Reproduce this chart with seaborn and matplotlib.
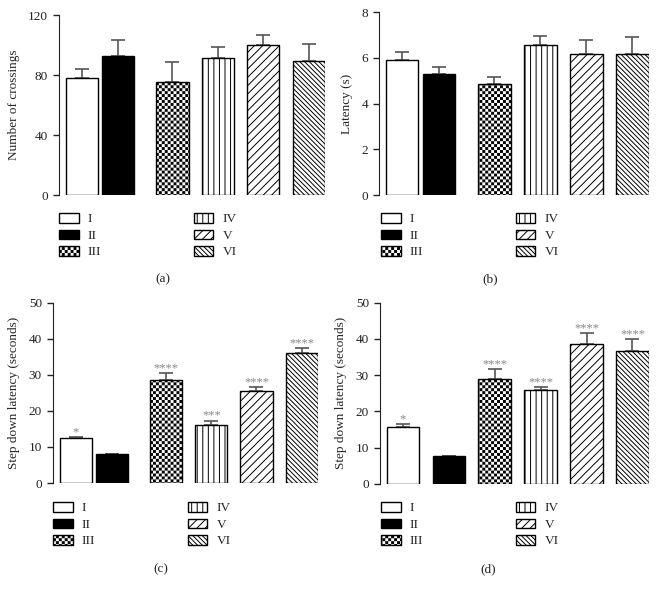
import warnings
import numpy as np
import pandas as pd
import matplotlib
matplotlib.use('Agg')
import matplotlib.pyplot as plt
import matplotlib.hatch as mhatch
from matplotlib.path import Path
from matplotlib.patches import Patch
import seaborn as sns

# groups (treatments)
groups = ['I', 'II', 'III', 'IV', 'V', 'VI']

# (a) locomotor activity
crossings = [78.0, 92.7, 75.1, 91.1, 99.8, 89.6]
crossings_err = [6.0, 10.5, 13.3, 7.3, 6.6, 11.3]

# (b) latency
latency = [5.93, 5.31, 4.85, 6.55, 6.17, 6.17]
latency_err = [0.32, 0.29, 0.33, 0.40, 0.62, 0.76]

# (c) step down latency
step_c = [12.4, 7.95, 28.65, 16.0, 25.6, 36.0]
step_c_err = [0.3, 0.15, 1.85, 1.3, 0.9, 1.3]
stars_c = ['*', '', '****', '***', '****', '****']

# (d) step down latency
step_d = [15.56, 7.64, 29.0, 25.9, 38.6, 36.7]
step_d_err = [0.85, 0.15, 2.6, 0.7, 3.0, 3.2]
stars_d = ['*', '', '****', '****', '****', '****']

# bar slots (first two groups sit closer together in a-c)
slots_abc = [0, 0.8, 2, 3, 4, 5]
slots_d = [0, 1, 2, 3, 4, 5]

fills = {'I': 'white', 'II': 'black', 'III': 'white',
         'IV': 'white', 'V': 'white', 'VI': 'white'}
hatches = {'I': None, 'II': None, 'III': 'c',
           'IV': '|||', 'V': '////', 'VI': '\\' * 7}


# no checkerboard hatch in matplotlib, so register a small one ('c')
class CheckerHatch(mhatch.HatchPatternBase):
    filled = True

    def __init__(self, hatch, density):
        self.n = 34 if 'c' in hatch else 0
        self.num_vertices = self.n * self.n // 2 * 5

    def set_vertices_and_codes(self, vertices, codes):
        s = 1.0 / self.n
        m = 0.17 * s
        k = 0
        for i in range(self.n):
            for j in range(self.n):
                if (i + j) % 2:
                    continue
                x0, y0 = i * s + m, j * s + m
                x1, y1 = (i + 1) * s - m, (j + 1) * s - m
                vertices[k:k + 5] = [(x0, y0), (x1, y0), (x1, y1), (x0, y1), (x0, y0)]
                codes[k:k + 5] = [Path.MOVETO, Path.LINETO, Path.LINETO,
                                  Path.LINETO, Path.CLOSEPOLY]
                k += 5


mhatch._hatch_types.append(CheckerHatch)
warnings.filterwarnings('ignore', message='hatch must consist')

sns.set_style('ticks')
plt.rcParams['font.family'] = ['Liberation Serif', 'DejaVu Serif']
plt.rcParams['hatch.linewidth'] = 0.7
plt.rcParams['hatch.color'] = 'black'

W, H = 656, 594
fig = plt.figure(figsize=(W / 100, H / 100), dpi=100)


def px_axes(left, top, right, bottom):
    return fig.add_axes([left / W, 1 - bottom / H, (right - left) / W, (bottom - top) / H])


def draw_panel(ax, slots, vals, errs, ymax, ystep, ylabel, stars=None):
    df = pd.DataFrame({'slot': slots, 'val': vals, 'group': groups})
    min_gap = np.min(np.diff(slots))
    sns.barplot(data=df, x='slot', y='val', hue='group', palette=fills,
                native_scale=True, dodge=False, width=0.71 / min_gap,
                saturation=1, errorbar=None, edgecolor='black', linewidth=1,
                legend=False, ax=ax)
    bars = sorted(ax.patches, key=lambda p: p.get_x())
    for bar, g in zip(bars, groups):
        if hatches[g]:
            bar.set_hatch(hatches[g])
        bar.set_zorder(2)
    ax.errorbar(slots, vals, yerr=[np.zeros(len(vals)), errs], fmt='none',
                ecolor='#555555', elinewidth=1.2, capsize=4.7, capthick=1.2, zorder=1)
    if stars:
        for x, v, e, s in zip(slots, vals, errs, stars):
            ax.annotate(s, (x, v + e), xytext=(0, 1.5), textcoords='offset points',
                        ha='center', va='baseline', fontsize=9, color='#888888')
    ax.set_xlim(-0.5, 5.36)
    ax.set_ylim(0, ymax)
    ax.set_yticks(np.arange(0, ymax + 1, ystep))
    ax.set_xticks([])
    ax.set_xlabel('')
    ax.set_ylabel(ylabel, fontsize=9.5, labelpad=6)
    ax.tick_params(axis='y', labelsize=9.5, length=4.5, width=1, colors='#222222')
    sns.despine(ax=ax, bottom=True)
    ax.spines['left'].set_color('#222222')


ax_a = px_axes(59, 15, 325, 195)
draw_panel(ax_a, slots_abc, crossings, crossings_err, 120, 40, 'Number of crossings')

ax_b = px_axes(379, 12.3, 649, 195)
draw_panel(ax_b, slots_abc, latency, latency_err, 8, 2, 'Latency (s)')

ax_c = px_axes(53, 302.7, 318, 483)
draw_panel(ax_c, slots_abc, step_c, step_c_err, 50, 10, 'Step down latency (seconds)', stars_c)

ax_d = px_axes(380, 302.7, 649, 483.7)
draw_panel(ax_d, slots_d, step_d, step_d_err, 50, 10, 'Step down latency (seconds)', stars_d)

handles = [Patch(facecolor=fills[g], edgecolor='black', hatch=hatches[g], linewidth=1)
           for g in groups]


def panel_legend(x, y):
    fig.legend(handles, groups, ncol=2, loc='upper left',
               bbox_to_anchor=(x / W, 1 - y / H), frameon=False, fontsize=9.5,
               handlelength=1.5, handleheight=0.75, handletextpad=0.68,
               labelspacing=0.31, columnspacing=7.0, borderpad=0, borderaxespad=0)


panel_legend(59, 213)
panel_legend(381, 213)
panel_legend(53, 502)
panel_legend(381, 502)

for x, y, lab in [(163, 279, '(a)'), (490, 279, '(b)'), (161, 569, '(c)'), (488, 569, '(d)')]:
    fig.text(x / W, 1 - y / H, lab, ha='center', va='center', fontsize=9.5, color='#222222')

fig.savefig('out.png', dpi=100)
